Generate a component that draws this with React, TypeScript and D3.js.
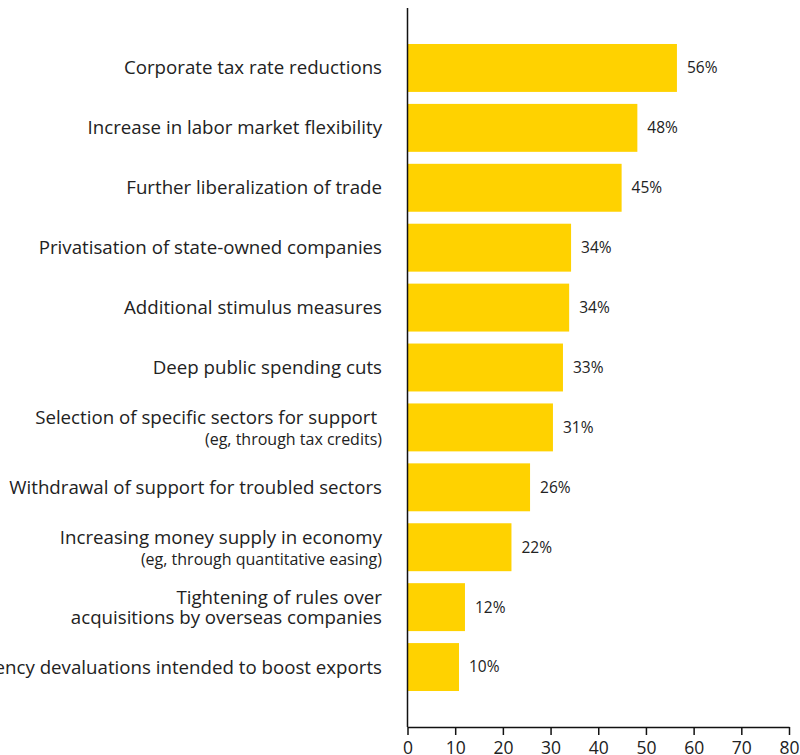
import React, { useEffect, useRef } from "react";
import * as d3 from "d3";

const categories: string[][] = [
  ["Corporate tax rate reductions"],
  ["Increase in labor market flexibility"],
  ["Further liberalization of trade"],
  ["Privatisation of state-owned companies"],
  ["Additional stimulus measures"],
  ["Deep public spending cuts"],
  ["Selection of specific sectors for support "],
  ["Withdrawal of support for troubled sectors"],
  ["Increasing money supply in economy"],
  ["Tightening of rules over", "acquisitions by overseas companies"],
  ["Currency devaluations intended to boost exports"],
];
const subNotes: string[] = [
  "", "", "", "", "", "",
  "(eg, through tax credits)",
  "",
  "(eg, through quantitative easing)",
  "", "",
];
const values: number[] = [56.5, 48.2, 44.9, 34.3, 33.9, 32.6, 30.5, 25.7, 21.8, 12.05, 10.8];
const valueLabels: string[] = ["56%", "48%", "45%", "34%", "34%", "33%", "31%", "26%", "22%", "12%", "10%"];
const xTicks: number[] = [0, 10, 20, 30, 40, 50, 60, 70, 80];

const W = 800;
const H = 755;
const FONT = "'Open Sans', sans-serif";
const TEXT = "#222";

export default function App() {
  const ref = useRef<SVGSVGElement | null>(null);

  useEffect(() => {
    const svg = d3.select(ref.current);
    svg.selectAll("*").remove();

    const x = d3.scaleLinear().domain([0, 80]).range([407.5, 789]);
    const idx = d3.range(categories.length).map(String);
    const y = d3.scaleBand().domain(idx).range([38, 697]).paddingInner(0.2).paddingOuter(0.1);

    // bars
    svg.append("g")
      .selectAll("rect")
      .data(values)
      .join("rect")
      .attr("x", x(0))
      .attr("y", (_d, i) => y(String(i))!)
      .attr("width", (d) => x(d) - x(0))
      .attr("height", y.bandwidth())
      .attr("fill", "#FFD200");

    // value labels
    svg.append("g")
      .selectAll("text")
      .data(values)
      .join("text")
      .attr("x", (d) => x(d) + 10)
      .attr("y", (_d, i) => y(String(i))! + y.bandwidth() / 2)
      .attr("dy", "0.35em")
      .attr("font-family", FONT)
      .attr("font-size", 15.5)
      .attr("fill", TEXT)
      .text((_d, i) => valueLabels[i]);

    // category labels
    const cg = svg.append("g");
    const addText = (yy: number, size: number, s: string) =>
      cg.append("text")
        .attr("x", 382).attr("y", yy).attr("dy", "0.35em")
        .attr("text-anchor", "end")
        .attr("font-family", FONT).attr("font-size", size).attr("fill", TEXT)
        .style("white-space", "pre")
        .text(s);
    categories.forEach((lines, i) => {
      const cy = y(String(i))! + y.bandwidth() / 2;
      const sub = subNotes[i];
      if (sub) {
        addText(cy - 10, 18.7, lines[0]);
        addText(cy + 12, 16, sub);
      } else if (lines.length === 1) {
        addText(cy, 18.7, lines[0]);
      } else {
        lines.forEach((ln, j) => addText(cy - 10 + j * 20, 18.7, ln));
      }
    });

    // vertical axis line
    svg.append("line")
      .attr("x1", x(0)).attr("x2", x(0))
      .attr("y1", 8).attr("y2", 727)
      .attr("stroke", "#111").attr("stroke-width", 1.5);

    // x axis
    const xAxis = d3.axisBottom(x).tickValues(xTicks).tickSize(8).tickSizeOuter(0).tickPadding(7);
    const ax = svg.append("g").attr("transform", "translate(0,727)").call(xAxis);
    ax.select(".domain").attr("stroke", "#111").attr("stroke-width", 1.5);
    ax.selectAll(".tick line").attr("stroke", "#111").attr("stroke-width", 1.5);
    ax.selectAll(".tick text")
      .attr("font-family", FONT)
      .attr("font-size", 17.5)
      .attr("fill", TEXT);
  }, []);

  return (
    <div style={{ position: "absolute", left: 0, top: 0 }}>
      <svg ref={ref} width={W} height={H} style={{ display: "block", background: "#fff" }} />
    </div>
  );
}
